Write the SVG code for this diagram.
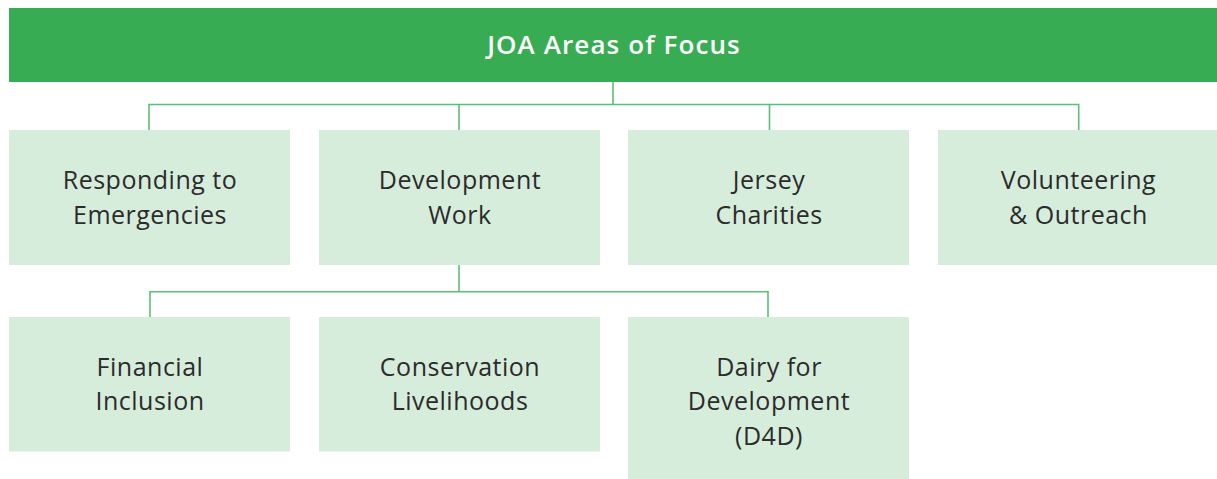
<svg xmlns="http://www.w3.org/2000/svg" width="1217" height="479" viewBox="0 0 1217 479">
<style>
.box{fill:#d7eddc}
.t{font-family:"Open Sans","Liberation Sans",sans-serif;font-size:25px;letter-spacing:0.5px;fill:#2b2b2b;text-anchor:middle}
.h{font-family:"Open Sans","Liberation Sans",sans-serif;font-size:26px;letter-spacing:1.1px;font-weight:600;fill:#ffffff;text-anchor:middle}
.c{fill:none;stroke:#5cbf74;stroke-width:1.6}
</style>
<rect width="1217" height="479" fill="#ffffff"/>
<g id="connectors">
<path class="c" d="M613 82V104.5M149 130V104.5H1078.7V130M459 104.5V130M769.5 104.5V130"/>
<path class="c" d="M459 265V291.7M150 317V291.7H768V317"/>
</g>
<g id="root"><rect x="9" y="8" width="1208" height="74" fill="#37ac53"/><text class="h" x="614" y="54">JOA Areas of Focus</text></g>
<g id="n1"><rect class="box" x="9" y="130" width="281" height="135"/><text class="t" x="150" y="189">Responding to</text><text class="t" x="150" y="224">Emergencies</text></g>
<g id="n2"><rect class="box" x="319" y="130" width="281" height="135"/><text class="t" x="460" y="189">Development</text><text class="t" x="460" y="224">Work</text></g>
<g id="n3"><rect class="box" x="628" y="130" width="281" height="135"/><text class="t" x="769" y="189">Jersey</text><text class="t" x="769" y="224">Charities</text></g>
<g id="n4"><rect class="box" x="938" y="130" width="279" height="135"/><text class="t" x="1078.5" y="189">Volunteering</text><text class="t" x="1078.5" y="224">&amp; Outreach</text></g>
<g id="n5"><rect class="box" x="9" y="317" width="281" height="134.5"/><text class="t" x="150" y="376">Financial</text><text class="t" x="150" y="410">Inclusion</text></g>
<g id="n6"><rect class="box" x="319" y="317" width="281" height="134.5"/><text class="t" x="460" y="376">Conservation</text><text class="t" x="460" y="410">Livelihoods</text></g>
<g id="n7"><rect class="box" x="628" y="317" width="281" height="162"/><text class="t" x="769" y="376">Dairy for</text><text class="t" x="769" y="410">Development</text><text class="t" x="769" y="445">(D4D)</text></g>
</svg>
